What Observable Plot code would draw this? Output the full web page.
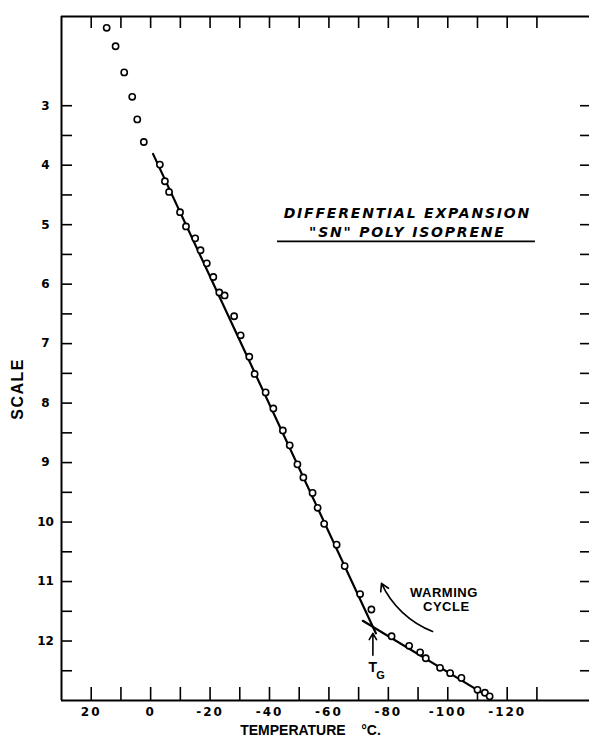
<!DOCTYPE html>
<html>
<head>
<meta charset="utf-8">
<script src="https://cdn.jsdelivr.net/npm/d3@7"></script>
<script src="https://cdn.jsdelivr.net/npm/@observablehq/plot@0.6"></script>
<style>
  body { margin: 0; background: #fff; }
  svg { display: block; }
  svg text { white-space: pre; }
</style>
</head>
<body>
<div id="chart"></div>
<script>
// Measured points (temperature °C, scale reading)
const temperature = [14.8, 11.8, 8.9, 6.2, 4.5, 2.3, -3.1, -4.8, -6.2, -9.9, -11.9, -15.0, -16.8, -18.9, -21.1, -23.1, -24.9, -28.1, -30.3, -33.2, -35.0, -38.7, -41.3, -44.5, -46.8, -49.4, -51.4, -54.5, -56.2, -58.4, -62.6, -65.3, -70.5, -74.3, -81.1, -87.0, -90.7, -92.6, -97.4, -100.8, -104.6, -110.0, -112.5, -114.1];
const scaleReading = [1.69, 2.00, 2.44, 2.85, 3.23, 3.61, 3.99, 4.27, 4.45, 4.79, 5.03, 5.23, 5.43, 5.65, 5.88, 6.14, 6.19, 6.54, 6.86, 7.22, 7.51, 7.82, 8.09, 8.46, 8.71, 9.03, 9.25, 9.51, 9.76, 10.03, 10.38, 10.74, 11.21, 11.47, 11.92, 12.08, 12.19, 12.29, 12.45, 12.54, 12.62, 12.82, 12.87, 12.93];

// Fitted straight lines (rubbery and glassy regions)
const rubberyTemp = [-0.8, -75.8];
const rubberyScale = [3.81, 11.87];
const glassyTemp = [-71.4, -114.5];
const glassyScale = [11.66, 12.96];

// Ticks and labels
const xTickValues = [20, 10, 0, -10, -20, -30, -40, -50, -60, -70, -80, -90, -100, -110, -120, -130];
const xTickLabels = [20, 0, -20, -40, -60, -80, -100, -120];
const yTickValues = [3, 3.5, 4, 4.5, 5, 5.5, 6, 6.5, 7, 7.5, 8, 8.5, 9, 9.5, 10, 10.5, 11, 11.5, 12, 12.5];
const yTickLabels = [3, 4, 5, 6, 7, 8, 9, 10, 11, 12];

const titleLines = ["DIFFERENTIAL EXPANSION", "\"SN\" POLY ISOPRENE"];
const noteLines = ["WARMING", "CYCLE"];
const xLabel = "TEMPERATURE    °C.";
const yLabel = "SCALE";

const points = temperature.map((t, i) => ({t, s: scaleReading[i]}));
const rubbery = rubberyTemp.map((t, i) => ({t, s: rubberyScale[i]}));
const glassy = glassyTemp.map((t, i) => ({t, s: glassyScale[i]}));

const W = 589, H = 741, ML = 61, MR = 0, MT = 16, MB = 41;
const PW = W - ML - MR, PH = H - MT - MB;

const bold = {fontWeight: "bold", fill: "black"};

const chart = Plot.plot({
  width: W, height: H,
  marginLeft: ML, marginRight: MR, marginTop: MT, marginBottom: MB,
  style: {background: "#fff", color: "#000"},
  x: {domain: [30, -147.7]},
  y: {domain: [13, 1.5]},
  marks: [
    // frame: left, top, bottom
    Plot.ruleX([30], {strokeWidth: 2}),
    Plot.ruleY([1.5, 13], {strokeWidth: 2}),
    // inward ticks
    Plot.tickX(xTickValues, {x: d => d, insetTop: PH - 13, strokeWidth: 1.6}),
    Plot.tickX(xTickValues, {x: d => d, insetBottom: PH - 12, strokeWidth: 1.6}),
    Plot.tickY(yTickValues, {y: d => d, insetRight: PW - 11, strokeWidth: 1.6}),
    Plot.tickY(yTickValues, {y: d => d, insetLeft: PW - 9, strokeWidth: 1.6}),
    // tick labels
    Plot.axisX(xTickLabels, {anchor: "bottom", tickSize: 0, tickPadding: 7, label: null,
      tickFormat: d => String(d), fontSize: 12, fontFamily: "DejaVu Sans", ...bold}),
    Plot.axisY(yTickLabels, {anchor: "left", tickSize: 0, tickPadding: 16, label: null, textAnchor: "middle",
      tickFormat: d => String(d), fontSize: 12, fontFamily: "DejaVu Sans", ...bold}),
    // axis titles
    Plot.text([xLabel], {frameAnchor: "bottom", dx: -15, dy: 34, fontSize: 14,
      fontFamily: "Liberation Sans", ...bold}),
    Plot.text([yLabel], {x: () => 30, y: () => 7.76, dx: -43.5, rotate: -90, fontSize: 16,
      fontFamily: "Liberation Sans", ...bold}),
    // fitted lines
    Plot.line(rubbery, {x: "t", y: "s", strokeWidth: 2.2}),
    Plot.line(glassy, {x: "t", y: "s", strokeWidth: 2.2}),
    // data points
    Plot.dot(points, {x: "t", y: "s", r: 3.1, fill: "white", stroke: "black", strokeWidth: 1.6}),
    // title block
    Plot.text([titleLines[0]], {x: -86.4, y: 4.81, fontSize: 14, fontStyle: "oblique",
      fontFamily: "DejaVu Sans", ...bold}),
    Plot.text([titleLines[1]], {x: -86.4, y: 5.13, fontSize: 14, fontStyle: "oblique",
      fontFamily: "DejaVu Sans", ...bold}),
    Plot.ruleY([5.28], {x1: -42.7, x2: -129.5, strokeWidth: 1.8}),
    // warming cycle annotation
    Plot.text([noteLines[0]], {x: -98.7, y: 11.19, fontSize: 13, fontFamily: "Liberation Sans", ...bold}),
    Plot.text([noteLines[1]], {x: -99.5, y: 11.43, fontSize: 13, fontFamily: "Liberation Sans", ...bold}),
    Plot.arrow([0], {x1: -94.9, y1: 11.84, x2: -77.7, y2: 11.03, bend: 22, strokeWidth: 1.6, headLength: 8}),
    // glass transition marker
    Plot.arrow([0], {x1: -74.8, y1: 12.24, x2: -74.8, y2: 11.87, strokeWidth: 1.6, headLength: 7}),
    Plot.text(["T"], {x: -74.8, y: 12.45, fontSize: 14, fontFamily: "Liberation Sans", ...bold}),
    Plot.text(["G"], {x: -77.4, y: 12.58, fontSize: 11, fontFamily: "Liberation Sans", ...bold})
  ]
});

document.getElementById("chart").appendChild(chart);

// letter spacing tweaks to mimic the lettering-guide text
d3.select(chart).selectAll("text").each(function() {
  const t = this.textContent;
  if (titleLines.includes(t)) this.setAttribute("letter-spacing", "1.8");
  else if (t === yLabel) this.setAttribute("letter-spacing", "1.5");
  else if (noteLines.includes(t)) this.setAttribute("letter-spacing", "0.5");
});
d3.select(chart).selectAll('g[aria-label="x-axis tick label"] text').attr("letter-spacing", "2");
</script>
</body>
</html>
